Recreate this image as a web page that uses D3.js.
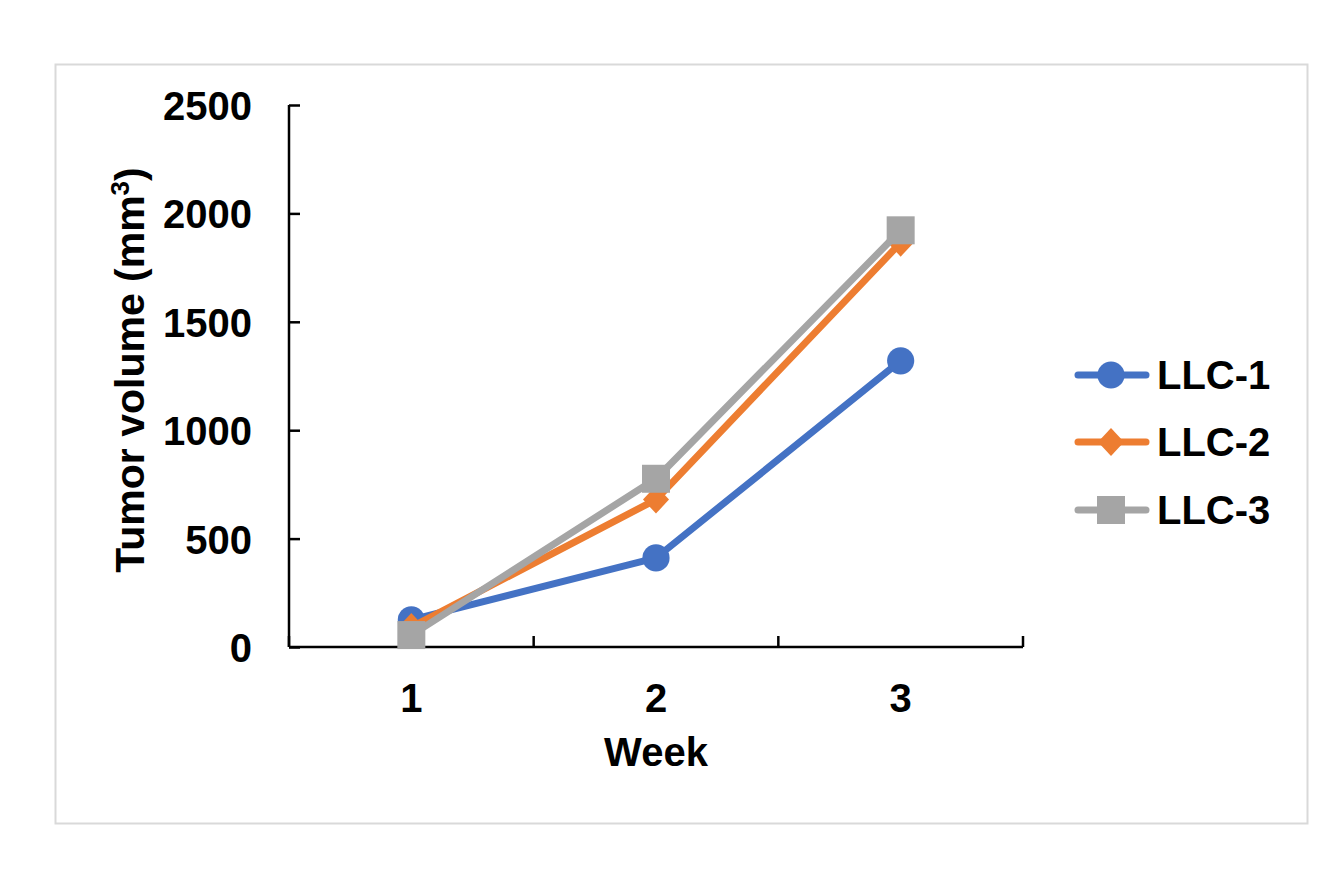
<!DOCTYPE html>
<html><head><meta charset="utf-8">
<script src="https://cdn.jsdelivr.net/npm/d3@7"></script>
<style>body{margin:0;background:#fff;}svg{display:block;}text{font-family:"Liberation Sans",Arial,sans-serif;font-weight:bold;fill:#000;}</style>
</head><body>
<svg id="c" width="1342" height="883"></svg>
<script>
const weeks = ["1","2","3"];
const seriesNames = ["LLC-1","LLC-2","LLC-3"];
const llc1 = [125, 411, 1320];
const llc2 = [92, 680, 1865];
const llc3 = [55, 776, 1922];
const yTicks = [0, 500, 1000, 1500, 2000, 2500];
const colors = ["#4472C4", "#ED7D31", "#A5A5A5"];
const symbols = ["circle", "diamond", "square"];

const FONT = '"Liberation Sans",Arial,sans-serif';
const svg = d3.select("#c");
svg.append("rect").attr("x",55.5).attr("y",64.5).attr("width",1252).attr("height",759)
  .attr("fill","#fff").attr("stroke","#d9d9d9").attr("stroke-width",2);

const x = d3.scaleBand().domain(weeks).range([289, 1023]);
const y = d3.scaleLinear().domain([0, 2500]).range([647, 105]);

// y axis
const yAxis = svg.append("g").attr("transform","translate(289,0)")
  .call(d3.axisRight(y).tickValues(yTicks).tickSize(11).tickFormat(d3.format("d")));
yAxis.select(".domain").attr("stroke","#000").attr("stroke-width",2.5).attr("d","M0,105V647");
yAxis.selectAll(".tick line").attr("stroke","#000").attr("stroke-width",2.5);
yAxis.selectAll(".tick text").attr("x",-37).attr("text-anchor","end").attr("font-size",40)
  .attr("font-family",FONT).attr("font-weight","bold").attr("dy","0.36em");

// x axis
const xAxis = svg.append("g").attr("transform","translate(0,647)")
  .call(d3.axisBottom(x).tickSize(0).tickFormat(d=>d));
xAxis.select(".domain").attr("stroke","#000").attr("stroke-width",2.5).attr("d","M289,0H1023");
xAxis.selectAll(".tick text").attr("y",65).attr("dy",0).attr("font-size",40)
  .attr("font-family",FONT).attr("font-weight","bold");
const bounds = [289].concat(weeks.map(w => x(w) + x.bandwidth()));
svg.append("g").selectAll("line").data(bounds).join("line")
  .attr("x1",d=>d).attr("x2",d=>d).attr("y1",647).attr("y2",636)
  .attr("stroke","#000").attr("stroke-width",2.5);

// titles
svg.append("text").attr("x",656).attr("y",766).attr("text-anchor","middle").attr("font-size",40).text("Week");
const yt = svg.append("text").attr("transform","translate(144,370) rotate(-90)").attr("text-anchor","middle").attr("font-size",41);
yt.append("tspan").text("Tumor volume (mm");
yt.append("tspan").attr("font-size",26).attr("dy",-15).text("3");
yt.append("tspan").attr("dy",15).text(")");

const data = [llc1, llc2, llc3];
const cx = i => x(weeks[i]) + x.bandwidth()/2;
const line = d3.line().x((d,i)=>cx(i)).y(d=>y(d));

function marker(type) {
  if (type === "circle") return d3.symbol().type(d3.symbolCircle).size(580)();
  if (type === "square") return "M-14,-14H14V14H-14Z";
  return "M0,-14L13,0L0,14L-13,0Z";
}

data.forEach((vals, si) => {
  svg.append("path").attr("d", line(vals)).attr("fill","none").attr("stroke",colors[si])
    .attr("stroke-width",7).attr("stroke-linejoin","round").attr("stroke-linecap","round");
  svg.append("g").selectAll("path").data(vals).join("path")
    .attr("transform",(d,i)=>`translate(${cx(i)},${y(d)})`)
    .attr("d", marker(symbols[si]))
    .attr("fill",colors[si]);
});

// legend
const leg = svg.append("g");
const legY = [375, 442, 510];
seriesNames.forEach((name, i) => {
  const ly = legY[i];
  leg.append("line").attr("x1",1078).attr("x2",1146).attr("y1",ly).attr("y2",ly)
    .attr("stroke",colors[i]).attr("stroke-width",7).attr("stroke-linecap","round");
  leg.append("path").attr("transform",`translate(1111,${ly})`)
    .attr("d", marker(symbols[i])).attr("fill",colors[i]);
  leg.append("text").attr("x",1157).attr("y",ly).attr("dy","0.36em").attr("font-size",40).text(name);
});
</script>
</body></html>
